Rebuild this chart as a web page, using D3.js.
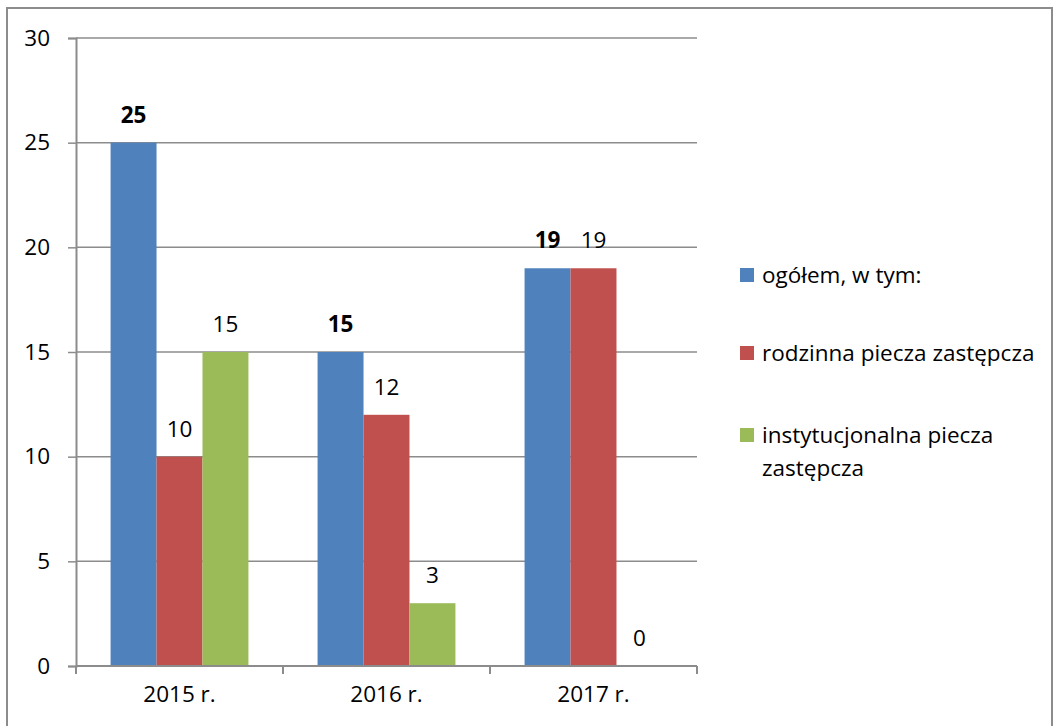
<!DOCTYPE html>
<html>
<head>
<meta charset="utf-8">
<script src="https://cdn.jsdelivr.net/npm/d3@7"></script>
<style>
  body { margin: 0; background: #fff; }
  svg text { font-family: "Open Sans", "Noto Sans", sans-serif; fill: #000; }
</style>
</head>
<body>
<svg id="chart" width="1057" height="726"></svg>
<script>
var categories = ["2015 r.", "2016 r.", "2017 r."];
var seriesNames = ["ogółem, w tym:", "rodzinna piecza zastępcza", "instytucjonalna piecza zastępcza"];
var ogolem = [25, 15, 19];
var rodzinna = [10, 12, 19];
var instytucjonalna = [15, 3, 0];
var yTicks = [0, 5, 10, 15, 20, 25, 30];
var colors = ["#4f81bd", "#c0504d", "#9bbb59"];

var svg = d3.select("#chart");
var series = [ogolem, rodzinna, instytucjonalna];
var fontSize = "22.5px";

// outer frame (cut off at right / bottom like the source)
svg.append("rect")
    .attr("x", 7).attr("y", 8)
    .attr("width", 1045).attr("height", 730)
    .attr("fill", "none").attr("stroke", "#8c8c8c").attr("stroke-width", 2);

var plotLeft = 76, plotRight = 697, plotTop = 38, plotBottom = 666;

var x = d3.scaleBand().domain(categories).range([plotLeft, plotRight]);
var y = d3.scaleLinear().domain([0, 30]).range([plotBottom, plotTop]);
var barW = x.bandwidth() * 0.222;
var x1 = d3.scaleBand().domain([0, 1, 2]).range([0, barW * 3]);

// gridlines
svg.append("g").selectAll("line").data(yTicks.slice(1)).enter().append("line")
    .attr("x1", plotLeft).attr("x2", plotRight)
    .attr("y1", function (d) { return y(d); }).attr("y2", function (d) { return y(d); })
    .attr("stroke", "#8c8c8c").attr("stroke-width", 1.5);

// y axis
var yAxis = svg.append("g").attr("transform", "translate(" + plotLeft + ",0)")
    .call(d3.axisLeft(y).tickValues(yTicks).tickSize(8).tickPadding(18));
yAxis.select(".domain").attr("stroke", "#8c8c8c").attr("stroke-width", 2);
yAxis.selectAll(".tick line").attr("stroke", "#8c8c8c").attr("stroke-width", 1.5);
yAxis.selectAll("text").style("font-size", fontSize).attr("fill", "#000");

// bars
series.forEach(function (vals, si) {
    var g = svg.append("g");
    g.selectAll("rect").data(vals).enter().append("rect")
        .attr("x", function (d, i) { return x(categories[i]) + (x.bandwidth() - barW * 3) / 2 + x1(si); })
        .attr("width", barW)
        .attr("y", function (d) { return y(d); })
        .attr("height", function (d) { return plotBottom - y(d); })
        .attr("fill", colors[si]);
    g.selectAll("text").data(vals).enter().append("text")
        .attr("x", function (d, i) { return x(categories[i]) + (x.bandwidth() - barW * 3) / 2 + x1(si) + barW / 2; })
        .attr("y", function (d) { return y(d) - 20; })
        .attr("text-anchor", "middle")
        .style("font-size", fontSize)
        .style("font-weight", si === 0 ? "bold" : "normal")
        .text(function (d) { return d; });
});

// x axis
var xAxis = svg.append("g").attr("transform", "translate(0," + plotBottom + ")")
    .call(d3.axisBottom(x).tickSize(0).tickPadding(20));
xAxis.select(".domain").remove();
svg.append("line").attr("x1", plotLeft).attr("x2", plotRight).attr("y1", plotBottom).attr("y2", plotBottom)
    .attr("stroke", "#8c8c8c").attr("stroke-width", 2);
svg.append("g").selectAll("line").data(d3.range(categories.length + 1)).enter().append("line")
    .attr("x1", function (d) { return plotLeft + d * x.step(); })
    .attr("x2", function (d) { return plotLeft + d * x.step(); })
    .attr("y1", plotBottom).attr("y2", plotBottom + 8)
    .attr("stroke", "#8c8c8c").attr("stroke-width", 2);
xAxis.selectAll("text").style("font-size", fontSize).attr("fill", "#000");

// legend
var legendY = [275, 353, 435];
var leg = svg.append("g");
seriesNames.forEach(function (name, i) {
    leg.append("rect")
        .attr("x", 740).attr("y", legendY[i] - 7)
        .attr("width", 14).attr("height", 14)
        .attr("fill", colors[i]);
    var t = leg.append("text").attr("x", 762).attr("y", legendY[i] + 8)
        .style("font-size", fontSize);
    if (i === 2) {
        t.append("tspan").attr("x", 762).text("instytucjonalna piecza");
        t.append("tspan").attr("x", 762).attr("dy", 33).text("zastępcza");
    } else {
        t.text(name);
    }
});
</script>
</body>
</html>
